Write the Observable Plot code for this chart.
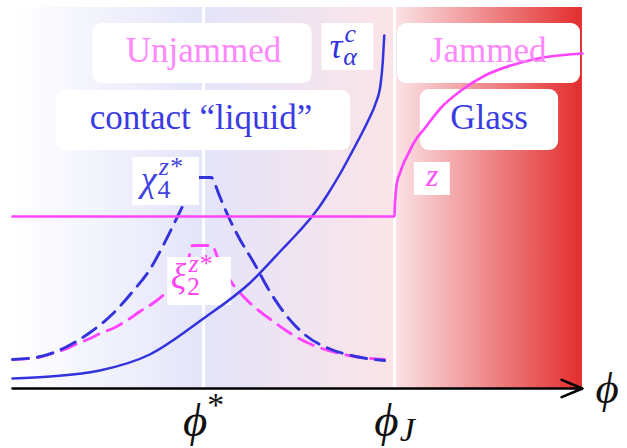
<!DOCTYPE html>
<html><head><meta charset="utf-8">
<script src="https://cdn.jsdelivr.net/npm/d3@7"></script>
<script src="https://cdn.jsdelivr.net/npm/@observablehq/plot@0.6"></script>
<style>html,body{margin:0;padding:0;background:#fff;overflow:hidden}</style>
</head><body>
<script>
// ---------- data (packing fraction phi: phi* = 1, phi_J = 2) ----------
const phiStar = 1, phiJ = 2, phiMax = 2.984, yTop = 381;

const tauPhi = [0, 0.198, 0.458, 0.719, 1.0, 1.240, 1.411, 1.5, 1.568, 1.604, 1.656, 1.719, 1.776, 1.823, 1.865, 1.901, 1.927, 1.9391, 1.9464];
const tauVal = [10, 12, 18, 34, 70, 105, 139, 157, 172, 181, 196, 216, 236, 253, 269, 285, 304, 328, 353];

const chiPhi = [0, 0.146, 0.276, 0.406, 0.521, 0.625, 0.729, 0.786, 0.859, 0.917, 0.958, 1.042, 1.052, 1.083, 1.135, 1.188, 1.266, 1.344, 1.438, 1.536, 1.656, 1.797, 1.948];
const chiVal = [29, 32, 41, 56, 74, 96, 122, 142, 170, 193, 211, 211, 208, 193, 170, 150, 125, 98, 72, 53, 40, 32, 28];

const xiPhi = [0, 0.135, 0.224, 0.286, 0.339, 0.406, 0.458, 0.536, 0.599, 0.667, 0.755, 0.849, 0.917, 0.943, 1.042, 1.083, 1.151, 1.214, 1.276, 1.344, 1.432, 1.5, 1.620, 1.760, 1.948];
const xiVal = [29, 31, 36, 40, 45, 50, 55, 61, 68, 77, 88, 105, 126, 143, 143, 127, 105, 91, 80, 70, 58, 50, 40, 33, 29];

const zPhi = [0, 2.0, 2.0016, 2.0052, 2.0120, 2.0297, 2.0469, 2.0729, 2.0990, 2.1615, 2.2448, 2.3490, 2.4740, 2.6094, 2.75, 2.984];
const zVal = [172, 172, 183, 193, 205, 216, 225, 235, 245, 261, 281, 298, 313, 323, 330, 335];

const tickPhi = [phiStar, phiJ];
const tickLabels = ["ϕ||*", "ϕ|J|"];
const regionNames = ["Unjammed", "contact “liquid”", "Jammed", "Glass"];
const curveLabels = ["τ|α|c", "χ|4|z*", "ξ|2|z*"];

// ---------- layout (annotation positions in data units) ----------
const regionX = [1.0, 0.987, 2.49, 2.495], regionY = [327, 260, 327, 260];
const regionColor = ["#ff88ff", "#3b3be3", "#ff88ff", "#3b3be3"];
const curveX = [1.66, 0.672, 0.829], curveY = [331, 198, 101];
const curveColor = ["#3434dc", "#4141e0", "#ff44f4"];
const roundBox = {x1: [0.422, 0.229, 2.016, 2.135], x2: [1.568, 1.771, 2.974, 2.859], y1: [305, 238, 305, 238], y2: [365, 298, 365, 299]};
const squareBox = {x1: [1.620, 2.104, 0.630, 0.8125], x2: [1.891, 2.292, 0.979, 1.146], y1: [318, 193, 183, 83], y2: [365, 226, 231, 131]};
const gradColors = ["#ffffff", "#e4e4fa", "#fbe4e7", "#e32d2d"];

const pts = (xs, ys) => xs.map((x, i) => ({x, y: ys[i]}));
const boxes = b => b.x1.map((_, i) => ({x1: b.x1[i], x2: b.x2[i], y1: b.y1[i], y2: b.y2[i]}));

const blue = "#3333dd", mag = "#ff44ff";
const serif = "Liberation Serif, DejaVu Serif, serif";

const chart = Plot.plot({
  width: 627, height: 448,
  marginLeft: 12, marginRight: 42, marginTop: 7, marginBottom: 60,
  x: {domain: [0, 3], axis: null},
  y: {domain: [0, yTop], axis: null},
  style: {background: "transparent", overflow: "visible"},
  marks: [
    Plot.rect([{x1: 0, x2: phiMax, y1: 0, y2: yTop}], {x1: "x1", x2: "x2", y1: "y1", y2: "y2", fill: "url(#bg)"}),
    Plot.ruleX(tickPhi.map(x => ({x, y1: 0, y2: yTop})), {x: "x", y1: "y1", y2: "y2", stroke: "white", strokeWidth: 3}),
    Plot.line(pts(xiPhi, xiVal), {x: "x", y: "y", stroke: mag, strokeWidth: 2.9, strokeDasharray: "16,9", curve: "monotone-x"}),
    Plot.line(pts(chiPhi, chiVal), {x: "x", y: "y", stroke: blue, strokeWidth: 2.9, strokeDasharray: "16,9", curve: "monotone-x"}),
    Plot.rect(boxes(roundBox), {x1: "x1", x2: "x2", y1: "y1", y2: "y2", fill: "white", rx: 9}),
    Plot.rect(boxes(squareBox), {x1: "x1", x2: "x2", y1: "y1", y2: "y2", fill: "white"}),
    Plot.line(pts(tauPhi, tauVal), {x: "x", y: "y", stroke: blue, strokeWidth: 2.5, curve: "monotone-x"}),
    Plot.line(pts(zPhi, zVal), {x: "x", y: "y", stroke: mag, strokeWidth: 2.7, curve: "monotone-x"}),
    Plot.text(regionNames.map((t, i) => ({t, x: regionX[i], y: regionY[i], c: regionColor[i]})),
      {x: "x", y: "y", text: "t", fill: d => d.c, textAnchor: "middle", lineAnchor: "bottom", fontSize: 35, fontFamily: serif}),
    Plot.text(curveLabels.map((t, i) => ({t, x: curveX[i], y: curveY[i], c: curveColor[i]})),
      {x: "x", y: "y", text: "t", fill: d => d.c, textAnchor: "start", lineAnchor: "bottom", fontSize: 36, fontStyle: "italic", fontFamily: serif}),
    Plot.text([{t: "z", x: 2.198, y: 203}], {x: "x", y: "y", text: "t", fill: "#ff55ff", textAnchor: "middle", lineAnchor: "bottom", fontSize: 32, fontStyle: "italic", fontFamily: serif}),
    Plot.arrow([{x1: 0, x2: phiMax, y1: 0, y2: 0}], {x1: "x1", x2: "x2", y1: "y1", y2: "y2", stroke: "black", strokeWidth: 2.6, headLength: 13, headAngle: 45}),
    Plot.text(tickPhi.map((x, i) => ({x, t: tickLabels[i], y: -47})),
      {x: "x", y: "y", text: "t", fill: "#111", textAnchor: "middle", lineAnchor: "bottom", fontSize: 47, fontStyle: "italic", fontFamily: serif}),
    Plot.text([{x: phiMax, y: -14, t: "ϕ"}], {x: "x", y: "y", text: "t", dx: 13, fill: "#111", textAnchor: "start", lineAnchor: "bottom", fontSize: 45, fontStyle: "italic", fontFamily: serif})
  ]
});

// gradient background
const grad = d3.select(chart).insert("defs", ":first-child").append("linearGradient")
  .attr("id", "bg").attr("x1", 0).attr("x2", 1).attr("y1", 0).attr("y2", 0);
const gradOffsets = [0, phiStar / phiMax, phiJ / phiMax, 1];
gradColors.forEach((c, i) => grad.append("stop").attr("offset", gradOffsets[i]).attr("stop-color", c));

document.body.append(chart);

// simple sub/superscript typesetting: "base|sub|sup"
d3.select(chart).selectAll("text").filter(function () { return this.textContent.includes("|"); }).each(function () {
  const [base, sub, sup] = this.textContent.split("|");
  const fs = parseFloat(getComputedStyle(this).fontSize);
  const el = d3.select(this).text(null);
  el.append("tspan").text(base);
  let subLen = 0;
  const subShift = sup ? 0.2 : 0.12;
  if (sub) {
    const t = el.append("tspan").attr("font-size", fs * 0.72).attr("dy", fs * subShift).attr("dx", fs * 0.02).text(sub);
    if (/^\d+$/.test(sub)) t.attr("font-style", "normal");
    subLen = t.node().getComputedTextLength() + fs * 0.02;
  }
  if (sup) {
    const t = el.append("tspan").attr("font-size", fs * 0.72).attr("dy", -(sub ? fs * subShift : 0) - fs * 0.42).text(sup);
    if (sub) t.attr("dx", -subLen + fs * 0.06);
    if (sup === "*") t.attr("font-style", "normal");
  }
});
</script>
</body></html>
